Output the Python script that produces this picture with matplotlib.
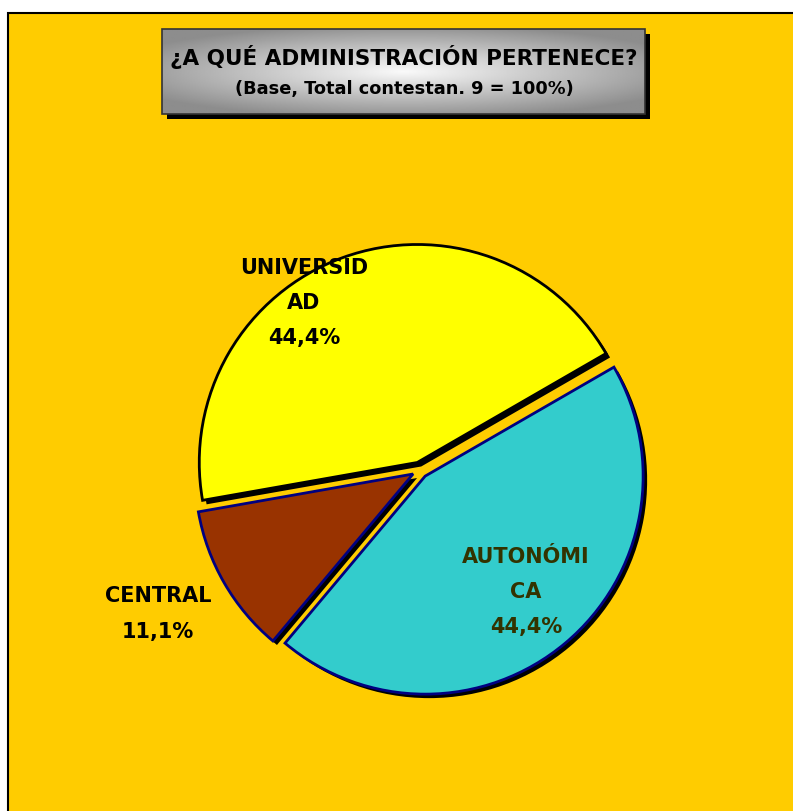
import numpy as np
from matplotlib import pyplot as plt
from matplotlib.patches import Rectangle

# Datos del gráfico
categorias = ['UNIVERSIDAD', 'CENTRAL', 'AUTONÓMICA']
porcentajes = [44.4, 11.1, 44.4]
etiquetas = ['UNIVERSID\nAD\n44,4%', 'CENTRAL\n11,1%', 'AUTONÓMI\nCA\n44,4%']
colores = ['#FFFF00', '#993300', '#33CCCC']
bordes = ['black', '#000080', '#000080']
color_texto = ['black', 'black', '#333300']

titulo = '¿A QUÉ ADMINISTRACIÓN PERTENECE?'
subtitulo = '(Base, Total contestan. 9 = 100%)'

W, H = 793, 812
fig = plt.figure(figsize=(W / 100, H / 100), dpi=100)
fig.patch.set_facecolor('white')
ax = fig.add_axes([0, 0, 1, 1])

def y_img(y):
    # coordenada de imagen (desde arriba) a coordenada de datos
    return H - y

# Fondo naranja con borde
ax.add_patch(Rectangle((8, -10), W + 20, y_img(14) + 10, facecolor='#FFCC00',
                       edgecolor='black', linewidth=1.5, zorder=0))

# Caja del título con sombra y degradado
bx0, bx1, by0, by1 = 162, 645, y_img(115), y_img(30)
ax.add_patch(Rectangle((bx0 + 5, by0 - 5), bx1 - bx0, by1 - by0, facecolor='black',
                       edgecolor='none', zorder=1))
gx, gy = np.meshgrid(np.linspace(-1, 1, 300), np.linspace(-1, 1, 80))
grad = np.clip(np.sqrt((gx * 0.8) ** 2 + (gy * 0.9) ** 2), 0, 1)
ax.imshow(grad, cmap='gray_r', vmin=-0.05, vmax=2.3, extent=(bx0, bx1, by0, by1),
          aspect='auto', zorder=2, interpolation='bilinear')
ax.add_patch(Rectangle((bx0, by0), bx1 - bx0, by1 - by0, facecolor='none',
                       edgecolor='#333333', linewidth=1.2, zorder=3))
ax.text(404, y_img(57), titulo, ha='center', va='center', fontsize=15.5,
        fontweight='bold', color='black', zorder=4)
ax.text(404, y_img(89), subtitulo, ha='center', va='center', fontsize=12.8,
        fontweight='bold', color='black', zorder=4)

# Tarta: sombra negra y luego sectores (explode en unidades de datos = px)
centro = (420, y_img(471))
radio = 218
explode = [8, 8, 8]
sombra, _ = ax.pie(porcentajes, colors=['black'] * 3, explode=explode, startangle=30,
                   center=(centro[0] + 4, centro[1] - 4), radius=radio, frame=True,
                   wedgeprops=dict(linewidth=0))
for w in sombra:
    w.set_zorder(5)
sectores, _ = ax.pie(porcentajes, colors=colores, explode=explode, startangle=30,
                     center=centro, radius=radio, frame=True)
for w, ec in zip(sectores, bordes):
    w.set_edgecolor(ec)
    w.set_linewidth(2.0)
    w.set_zorder(6)

ax.set_xlim(0, W)
ax.set_ylim(0, H)
ax.set_aspect('auto')
ax.axis('off')

# Etiquetas
pos_etiquetas = [(304, y_img(303)), (158, y_img(614)), (526, y_img(592))]
for txt, (x, y), c in zip(etiquetas, pos_etiquetas, color_texto):
    ax.text(x, y, txt, ha='center', va='center', fontsize=15, fontweight='bold',
            color=c, linespacing=1.95, zorder=8)

plt.savefig('out.png', dpi=100)
